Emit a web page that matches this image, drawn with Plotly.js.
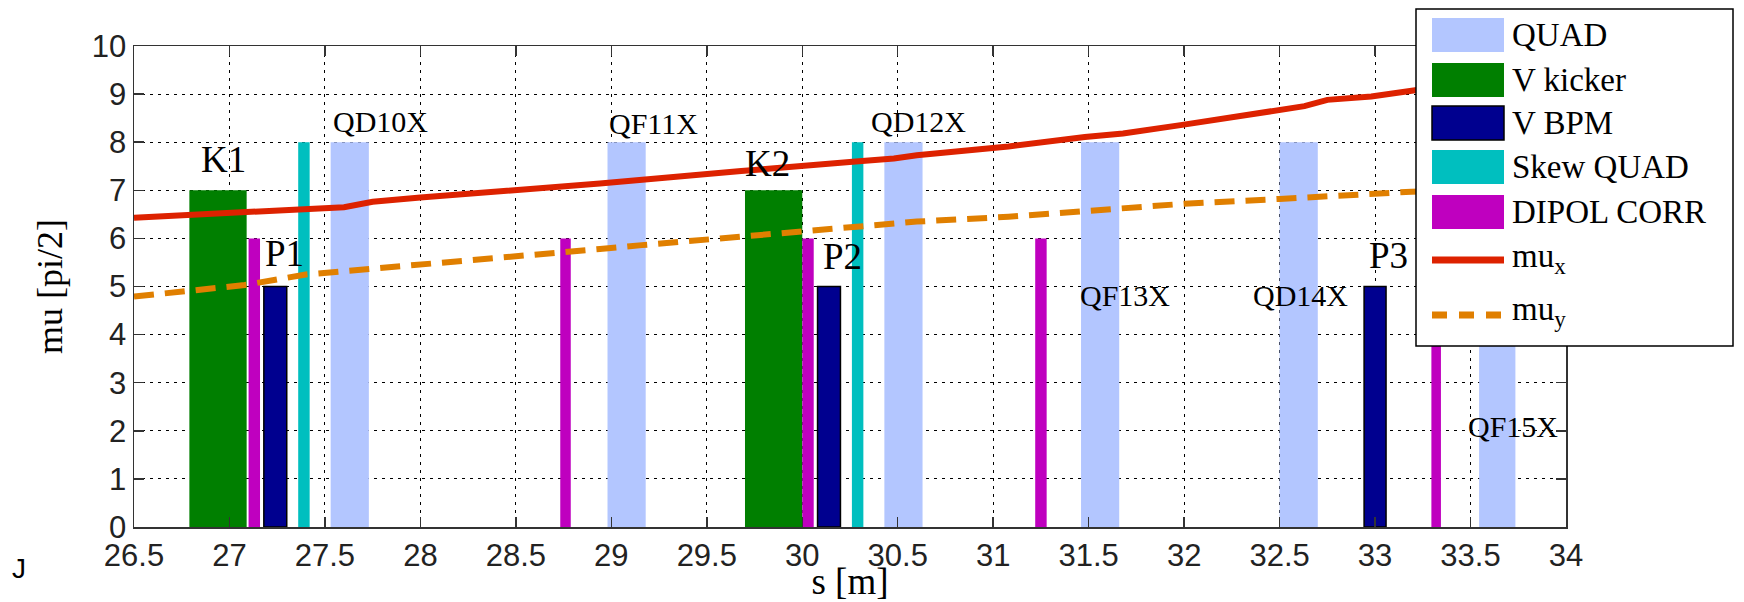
<!DOCTYPE html>
<html>
<head>
<meta charset="utf-8">
<script src="https://cdn.plot.ly/plotly-3.0.1.min.js"></script>
<style>html,body{margin:0;padding:0;background:#fff;}#chart{width:1744px;height:602px;}</style>
</head>
<body>
<div id="chart"></div>
<script>
// ---------- data ----------
const quadS   = [27.63, 29.08, 30.53, 31.56, 32.60, 33.64];
const quadMu  = [8, 8, 8, 8, 8, 8];
const quadLen = [0.20, 0.20, 0.20, 0.20, 0.20, 0.19];

const kickS   = [26.94, 29.85];
const kickMu  = [7, 7];
const kickLen = [0.30, 0.30];

const bpmS    = [27.24, 30.14, 33.00];
const bpmMu   = [5, 5, 5];
const bpmLen  = [0.12, 0.12, 0.115];

const skewS   = [27.39, 30.29];
const skewMu  = [8, 8];
const skewLen = [0.06, 0.06];

const dipS    = [27.13, 28.76, 30.03, 31.25, 33.32];
const dipMu   = [6, 6, 6, 6, 6];
const dipLen  = [0.06, 0.055, 0.06, 0.06, 0.05];

const muxS = [26.5, 27.08, 27.6, 27.75, 28.0, 28.94, 29.16, 29.68, 30.28, 30.48, 30.6, 31.08, 31.48, 31.68, 31.99, 32.5, 32.63, 32.75, 32.98, 33.21, 33.6, 34.0];
const muxV = [6.43, 6.56, 6.65, 6.76, 6.85, 7.14, 7.21, 7.40, 7.60, 7.66, 7.73, 7.91, 8.11, 8.18, 8.36, 8.67, 8.75, 8.88, 8.95, 9.08, 9.25, 9.45];

const muyS = [26.5, 27.08, 27.4, 27.66, 28.0, 28.5, 28.94, 29.16, 29.68, 30.0, 30.28, 30.6, 31.08, 31.56, 31.82, 32.0, 32.5, 32.98, 33.19, 34.0];
const muyV = [4.79, 5.03, 5.25, 5.34, 5.43, 5.60, 5.78, 5.86, 6.04, 6.15, 6.24, 6.35, 6.45, 6.59, 6.65, 6.72, 6.82, 6.92, 6.97, 7.10];

const labelText = ['K1', 'P1', 'QD10X', 'QF11X', 'K2', 'P2', 'QD12X', 'QF13X', 'QD14X', 'P3', 'QF15X'];
const labelS    = [26.97, 27.29, 27.79, 29.22, 29.82, 30.21, 30.61, 31.69, 32.61, 33.07, 33.72];
const labelMu   = [7.64, 5.69, 8.43, 8.39, 7.56, 5.62, 8.43, 4.82, 4.82, 5.65, 2.09];

const xTicks = [26.5, 27, 27.5, 28, 28.5, 29, 29.5, 30, 30.5, 31, 31.5, 32, 32.5, 33, 33.5, 34];
const yTicks = [0, 1, 2, 3, 4, 5, 6, 7, 8, 9, 10];

const legendNames = ['QUAD', 'V kicker', 'V BPM', 'Skew QUAD', 'DIPOL CORR', 'mu<sub>x</sub>', 'mu<sub>y</sub>'];

// ---------- styles ----------
const C = {quad:'#b3c6ff', kick:'#007f00', bpm:'#00008f', skew:'#00bfbf', dip:'#bf00bf', mux:'#dd2200', muy:'#e07f00'};
const serif = 'Liberation Serif, Times New Roman, serif';
const sans = 'Liberation Sans, Arial, sans-serif';

function barTrace(name, s, mu, len, color, lineW) {
  return {type:'bar', name:name, x:s, y:mu, width:len, base:0,
    marker:{color:color, line:{color:'#000', width:lineW||0}},
    showlegend:false, hoverinfo:'skip'};
}

const traces = [
  barTrace('QUAD', quadS, quadMu, quadLen, C.quad),
  barTrace('V kicker', kickS, kickMu, kickLen, C.kick),
  barTrace('V BPM', bpmS, bpmMu, bpmLen, C.bpm, 1.5),
  barTrace('Skew QUAD', skewS, skewMu, skewLen, C.skew),
  barTrace('DIPOL CORR', dipS, dipMu, dipLen, C.dip),
  {type:'scatter', mode:'lines', name:'mu_x', x:muxS, y:muxV, line:{color:C.mux, width:6}, showlegend:false},
  {type:'scatter', mode:'lines', name:'mu_y', x:muyS, y:muyV, line:{color:C.muy, width:6, dash:'20px,11px'}, showlegend:false}
];

// plot area in pixels
const PL = 134, PR = 1566, PT = 46, PB = 527;
const px = v => (v - PL) / (PR - PL);
const py = v => (PB - v) / (PB - PT);

const annotations = labelText.map((t, i) => ({
  xref:'x', yref:'y', x:labelS[i], y:labelMu[i], text:t, showarrow:false,
  xanchor:'center', yanchor:'middle',
  font:{family:serif, size:(t.length <= 2 ? 37 : 30), color:'#000'}
}));

// legend (drawn box)
const shapes = [];
shapes.push({type:'rect', xref:'paper', yref:'paper', x0:px(1416), x1:px(1733), y0:py(9), y1:py(346),
  fillcolor:'#fff', line:{color:'#000', width:1.5}, layer:'above'});
const swColors = [C.quad, C.kick, C.bpm, C.skew, C.dip];
const itemY = [35, 80, 123, 167, 212, 258, 312];
swColors.forEach((col, i) => {
  shapes.push({type:'rect', xref:'paper', yref:'paper', x0:px(1432), x1:px(1504),
    y0:py(itemY[i] - 17), y1:py(itemY[i] + 17), fillcolor:col,
    line:{color: i === 2 ? '#000' : col, width: i === 2 ? 1.5 : 0}, layer:'above'});
});
shapes.push({type:'line', xref:'paper', yref:'paper', x0:px(1432), x1:px(1504), y0:py(260), y1:py(260),
  line:{color:C.mux, width:7}, layer:'above'});
shapes.push({type:'line', xref:'paper', yref:'paper', x0:px(1432), x1:px(1504), y0:py(315), y1:py(315),
  line:{color:C.muy, width:7, dash:'15px,12px'}, layer:'above'});
legendNames.forEach((n, i) => {
  annotations.push({xref:'paper', yref:'paper', x:px(1510), y:py(itemY[i]), text:n, showarrow:false,
    xanchor:'left', yanchor:'middle', font:{family:serif, size:33, color:'#000'}});
});
annotations.push({xref:'paper', yref:'paper', x:px(10), y:py(568), text:'J', showarrow:false,
  xanchor:'left', yanchor:'middle', font:{family:sans, size:28, color:'#000'}});

const axisCommon = {
  showline:true, linecolor:'#333', linewidth:1.5, mirror:'ticks',
  ticks:'inside', ticklen:10, tickwidth:1.5, tickcolor:'#333',
  showgrid:true, gridcolor:'#000', gridwidth:1, griddash:'3px,5px',
  zeroline:false, tickfont:{family:sans, size:31, color:'#222'}, automargin:false
};

const layout = {
  width:1744, height:602,
  margin:{l:PL, r:1744 - PR, t:PT, b:602 - PB},
  paper_bgcolor:'#fff', plot_bgcolor:'#fff',
  barmode:'overlay', showlegend:false,
  xaxis:Object.assign({}, axisCommon, {range:[26.5, 34], tickvals:xTicks,
    title:{text:'s [m]', font:{family:serif, size:37, color:'#000'}, standoff:4}}),
  yaxis:Object.assign({}, axisCommon, {range:[0, 10], tickvals:yTicks,
    title:{text:'mu [pi/2]', font:{family:serif, size:36, color:'#000'}, standoff:18}}),
  annotations:annotations,
  shapes:shapes
};

Plotly.newPlot('chart', traces, layout, {staticPlot:true});
</script>
</body>
</html>
